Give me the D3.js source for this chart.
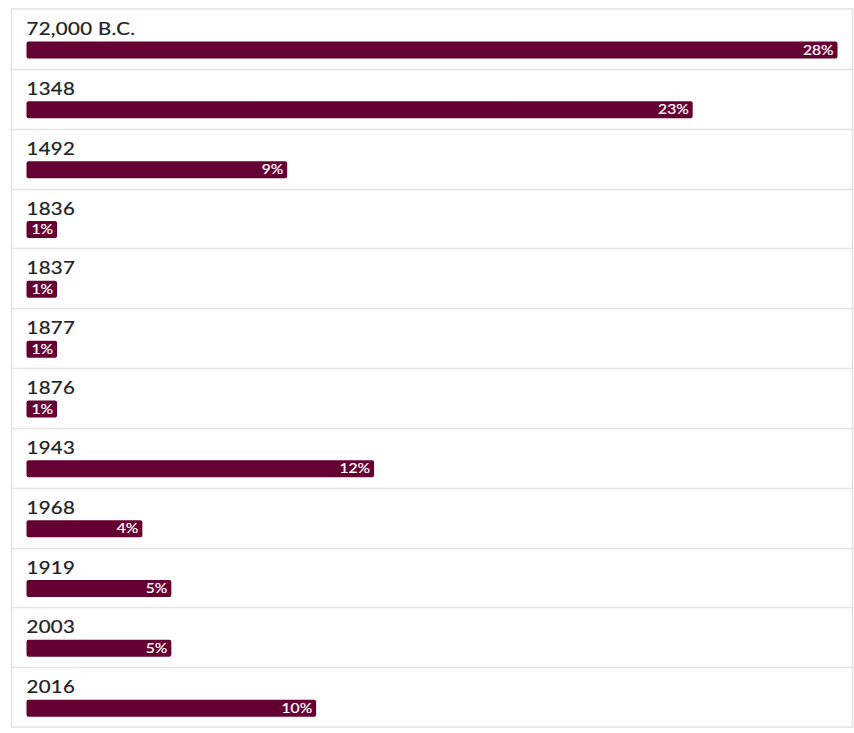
<!DOCTYPE html>
<html>
<head>
<meta charset="utf-8">
<script src="https://cdn.jsdelivr.net/npm/d3@7"></script>
<style>
  html, body { margin: 0; padding: 0; background: #fff; }
  svg { display: block; }
</style>
</head>
<body>
<svg id="chart" width="854" height="733"></svg>
<script>
// Years and the share recorded for each one (percent)
const years = ["72,000 B.C.", "1348", "1492", "1836", "1837", "1877", "1876", "1943", "1968", "1919", "2003", "2016"];
const shares = [28, 23, 9, 1, 1, 1, 1, 12, 4, 5, 5, 10];

const box = { left: 11.5, right: 852.5, top: 9, bottom: 727 };
const pad = 15;
const stretch = 1.2; // horizontal text widening

const svg = d3.select("#chart");

const rows = d3.scaleBand()
  .domain(years)
  .range([box.top, box.bottom])
  .paddingInner(0).paddingOuter(0);

const x = d3.scaleLinear()
  .domain([0, d3.max(shares)])
  .range([box.left + pad, box.right - pad]);

const data = years.map((y, i) => ({ year: y, value: shares[i] }));

// outer frame
svg.append("rect")
  .attr("x", box.left).attr("y", box.top)
  .attr("width", box.right - box.left).attr("height", box.bottom - box.top)
  .attr("fill", "#fff").attr("stroke", "#e2e2e2").attr("stroke-width", 1.5);

// row separators
svg.selectAll("line.sep")
  .data(years.slice(1))
  .join("line")
  .attr("class", "sep")
  .attr("x1", box.left).attr("x2", box.right)
  .attr("y1", d => Math.round(rows(d)) + 0.5)
  .attr("y2", d => Math.round(rows(d)) + 0.5)
  .attr("stroke", "#e6e6e6").attr("stroke-width", 1.5);

const row = svg.selectAll("g.row")
  .data(data)
  .join("g")
  .attr("class", "row")
  .attr("transform", d => `translate(0,${rows(d.year)})`);

// year labels
row.append("text")
  .attr("transform", `translate(${x(0)},26) scale(${stretch},1)`)
  .attr("font-family", "Lato, 'Open Sans', sans-serif")
  .attr("font-size", 17)
  .attr("letter-spacing", 0.3)
  .attr("fill", "#222222")
  .attr("stroke", "#222222")
  .attr("stroke-width", 0.25)
  .text(d => d.year);

// value labels (measured first so tiny bars can still hold them)
const vals = row.append("text")
  .attr("font-family", "Lato, 'Open Sans', sans-serif")
  .attr("font-size", 13)
  .attr("fill", "#fff")
  .attr("stroke", "#fff")
  .attr("stroke-width", 0.2)
  .attr("text-anchor", "end")
  .text(d => d.value + "%");

vals.each(function(d) {
  d.labelW = this.getBBox().width * stretch;
  d.barW = Math.max(x(d.value) - x(0), d.labelW + 9);
});

row.insert("rect", "text:last-child")
  .attr("x", x(0))
  .attr("y", 32.5)
  .attr("width", d => d.barW)
  .attr("height", 17)
  .attr("rx", 2).attr("ry", 2)
  .attr("fill", "#650033");

vals.attr("transform", d => `translate(${x(0) + d.barW - 4},45.5) scale(${stretch},1)`);
</script>
</body>
</html>
